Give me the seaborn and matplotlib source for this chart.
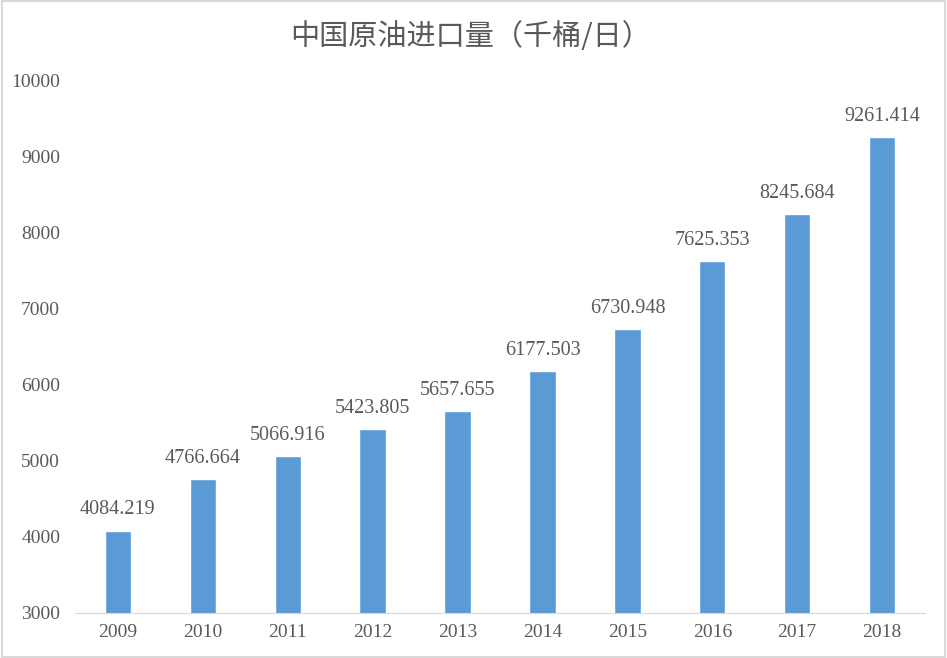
import matplotlib.pyplot as plt
import seaborn as sns
import pandas as pd
from matplotlib.patches import Rectangle

years = ["2009", "2010", "2011", "2012", "2013", "2014", "2015", "2016", "2017", "2018"]
imports = [4084.219, 4766.664, 5066.916, 5423.805, 5657.655, 6177.503, 6730.948, 7625.353, 8245.684, 9261.414]
title = "中国原油进口量（千桶/日）"

df = pd.DataFrame({"year": years, "value": imports})

sns.set_style("white")
plt.rcParams["font.family"] = ["Liberation Serif", "Noto Sans CJK SC", "DejaVu Sans"]
text_color = "#595959"

fig = plt.figure(figsize=(9.47, 6.58), dpi=100)
ax = fig.add_axes([0.0797, 0.0684, 0.8966, 0.8086])
sns.barplot(data=df, x="year", y="value", color="#5B9BD5", width=0.31,
            saturation=1, ax=ax)

ax.set_ylim(3000, 10000)
ax.set_yticks(range(3000, 10001, 1000))
ax.set_xlabel("")
ax.set_ylabel("")
for s in ["top", "right", "left"]:
    ax.spines[s].set_visible(False)
ax.spines["bottom"].set_color("#D9D9D9")
ax.tick_params(axis="both", length=0, labelsize=14, colors=text_color)
ax.tick_params(axis="y", pad=11)
ax.tick_params(axis="x", pad=8)

for i, v in enumerate(imports):
    ax.annotate(f"{v:.3f}", (i, v), xytext=(0, 8), textcoords="offset points",
                ha="center", va="bottom", fontsize=14.5, color=text_color)

fig.text(0.497, 0.944, title, ha="center", va="center", fontsize=21,
         color=text_color, family=["Noto Sans CJK SC", "DejaVu Sans"])

fig.patches.append(Rectangle((0.002, 0.002), 0.996, 0.996, transform=fig.transFigure,
                             fill=False, edgecolor="#D9D9D9", linewidth=1.5))

fig.savefig("out.png", dpi=100)
